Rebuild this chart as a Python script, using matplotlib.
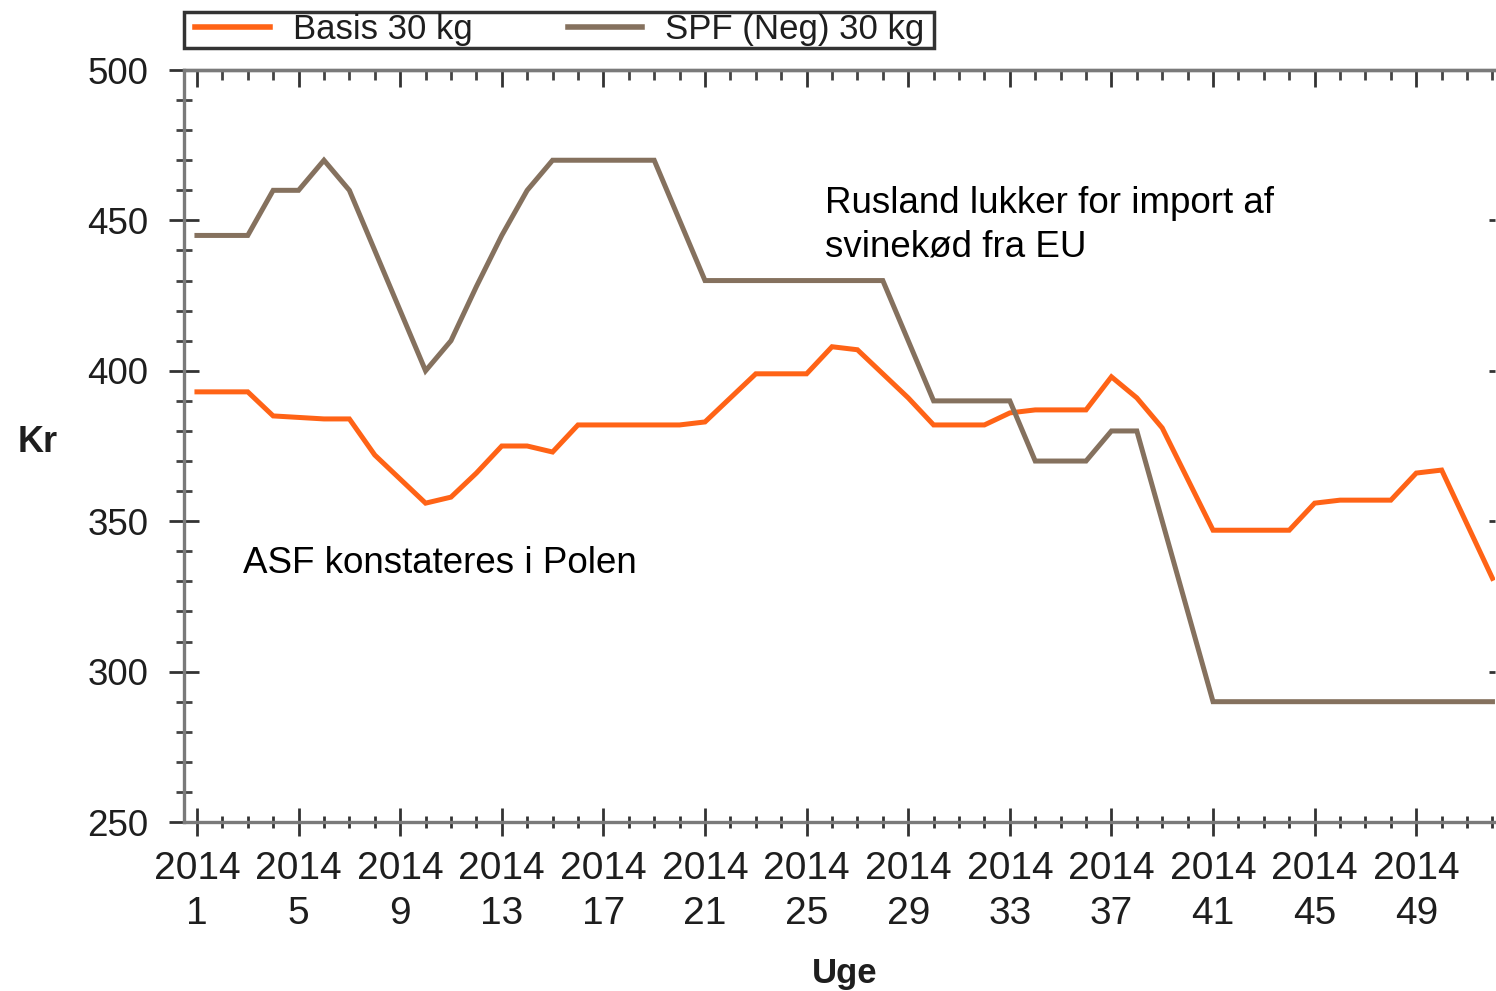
import matplotlib
matplotlib.use("Agg")
import matplotlib.pyplot as plt
from matplotlib.ticker import MultipleLocator
from matplotlib.patches import Rectangle

plt.rcParams['font.family'] = ['Liberation Sans', 'DejaVu Sans']

# weeks 1..52 of 2014
weeks = list(range(1, 53))

basis = [393, 393, 393, 385, 384.5, 384, 384, 372, 364, 356,
         358, 366, 375, 375, 373, 382, 382, 382, 382, 382,
         383, 391, 399, 399, 399, 408, 407, 399, 391, 382,
         382, 382, 386, 387, 387, 387, 398, 391, 381, 364,
         347, 347, 347, 347, 356, 357, 357, 357, 366, 367,
         349, 331]

spf = [445, 445, 445, 460, 460, 470, 460, 440, 420, 400,
       410, 428, 445, 460, 470, 470, 470, 470, 470, 450,
       430, 430, 430, 430, 430, 430, 430, 430, 410, 390,
       390, 390, 390, 370, 370, 370, 380, 380, 350, 320,
       290, 290, 290, 290, 290, 290, 290, 290, 290, 290,
       290, 290]

major_weeks = [1, 5, 9, 13, 17, 21, 25, 29, 33, 37, 41, 45, 49]
tick_labels = ["2014\n%d" % w for w in major_weeks]
y_ticks = [250, 300, 350, 400, 450, 500]

orange = '#FF6316'
brown = '#85715E'
axis_grey = '#7a7a7a'
txt = '#1e1e1e'

fig = plt.figure(figsize=(14.96, 9.91), dpi=100)
ax = fig.add_axes([184/1496, 1 - 822/991, (1495 - 184)/1496, (822 - 70)/991])

ax.plot(weeks, basis, color=orange, lw=3.6, label='Basis 30 kg', solid_joinstyle='miter')
ax.plot(weeks, spf, color=brown, lw=3.6, label='SPF (Neg) 30 kg', solid_joinstyle='miter')

ax.set_xlim(0.49, 52.1)
ax.set_ylim(250, 500)

ax.set_xticks(major_weeks)
ax.set_xticklabels(tick_labels, fontsize=28, color=txt, linespacing=1.32)
ax.xaxis.set_minor_locator(MultipleLocator(1))
ax.set_yticks(y_ticks)
ax.set_yticklabels([str(v) for v in y_ticks], fontsize=26.5, color=txt)
ax.yaxis.set_minor_locator(MultipleLocator(10))

ax.tick_params(axis='x', which='major', direction='inout', length=20, width=2, color='#333333', pad=11)
ax.tick_params(axis='x', which='minor', direction='inout', length=9, width=2, color='#333333')
ax.tick_params(axis='y', which='major', direction='inout', length=21, width=2, color='#333333', pad=15)
ax.tick_params(axis='y', which='minor', direction='inout', length=12, width=2, color='#444444')

for s in ['left', 'bottom', 'top']:
    ax.spines[s].set_color(axis_grey)
    ax.spines[s].set_linewidth(2.4)
ax.spines['right'].set_visible(False)

# top ticks pointing in
top = ax.secondary_xaxis('top')
top.set_xticks(major_weeks)
top.set_xticklabels([])
top.xaxis.set_minor_locator(MultipleLocator(1))
top.tick_params(which='major', direction='in', length=12, width=2, color='#333333')
top.tick_params(which='minor', direction='in', length=7, width=2, color='#444444')
top.spines['top'].set_color(axis_grey)
top.spines['top'].set_linewidth(2.4)

# small inward ticks on the right edge
right = ax.secondary_yaxis('right')
right.set_yticks(y_ticks)
right.set_yticklabels([])
right.tick_params(direction='in', length=4, width=2, color='#333333')
right.spines['right'].set_visible(False)

ax.text(2.81, 336, 'ASF konstateres i Polen', fontsize=26.5, color='black',
        ha='left', va='center')
ax.text(25.72, 448.3, 'Rusland lukker for import af\nsvinekød fra EU', fontsize=26.5,
        color='black', ha='left', va='center', linespacing=1.3)

fig.text(38/1496, 1 - 443/991, 'Kr', fontsize=26, fontweight='bold', color=txt,
         ha='center', va='center')
fig.text(845/1496, 1 - 973/991, 'Uge', fontsize=25, fontweight='bold', color=txt,
         ha='center', va='center')

# legend box drawn separately so the text can be as tall as in the original
fig.patches.append(Rectangle((184/1496, 1 - 48/991), 750/1496, 36/991,
                             transform=fig.transFigure, fill=False,
                             ec='#333333', lw=2.5))
leg = fig.legend(loc='center left', bbox_to_anchor=(195/1496, 1 - 30/991), ncol=2,
                 fontsize=25, handlelength=2.15, handletextpad=0.66, columnspacing=2.75,
                 borderpad=0, borderaxespad=0, frameon=False, labelcolor=txt)
for line in leg.get_lines():
    line.set_linewidth(4)

fig.savefig('out.png', dpi=100)
